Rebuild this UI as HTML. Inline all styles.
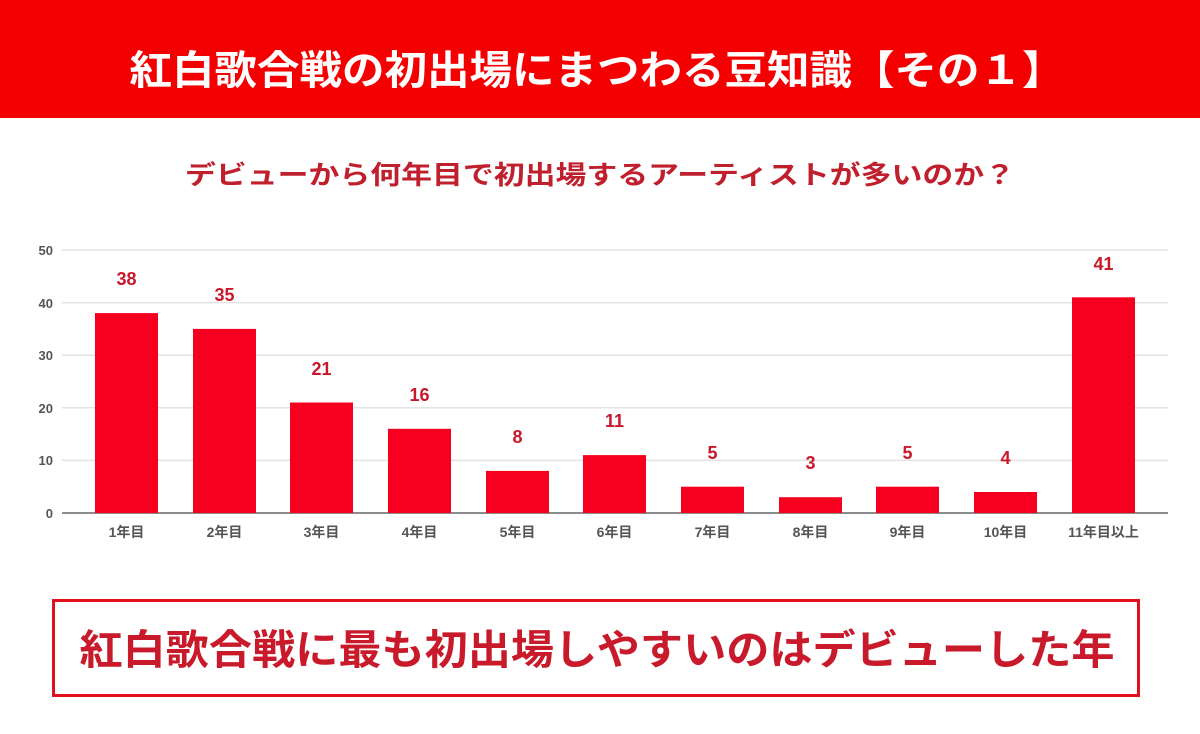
<!DOCTYPE html>
<html><head><meta charset="utf-8"><style>
html,body{margin:0;padding:0;background:#fff;}
svg{display:block;}
text{font-family:"Liberation Sans","Noto Sans CJK JP",sans-serif;}
</style></head><body>
<svg width="1200" height="734" viewBox="0 0 1200 734" xmlns="http://www.w3.org/2000/svg">
<rect x="0" y="0" width="1200" height="118" fill="#f50000"/>
<text x="597" y="84" font-size="40" font-weight="bold" fill="#fff" text-anchor="middle" textLength="935" lengthAdjust="spacingAndGlyphs">紅白歌合戦の初出場にまつわる豆知識【その１】</text>
<text x="600" y="184" font-size="26" font-weight="bold" fill="#c0202e" text-anchor="middle" textLength="830" lengthAdjust="spacingAndGlyphs">デビューから何年目で初出場するアーティストが多いのか？</text>
<g stroke="#e3e3e3" stroke-width="1.5">
<line x1="62" x2="1168" y1="250" y2="250"/>
<line x1="62" x2="1168" y1="302.6" y2="302.6"/>
<line x1="62" x2="1168" y1="355.2" y2="355.2"/>
<line x1="62" x2="1168" y1="407.8" y2="407.8"/>
<line x1="62" x2="1168" y1="460.4" y2="460.4"/>
</g>
<g font-size="13" font-weight="bold" fill="#555" text-anchor="end">
<text x="53" y="255">50</text><text x="53" y="308">40</text><text x="53" y="360">30</text>
<text x="53" y="413">20</text><text x="53" y="465">10</text><text x="53" y="518">0</text>
</g>
<g id="bars" fill="#f5001e"></g>
<line x1="62" x2="1168" y1="513" y2="513" stroke="#666" stroke-width="1.5"/>
<g id="lbl"></g>
<rect x="53.5" y="600.5" width="1085" height="95" fill="none" stroke="#e0101e" stroke-width="3"/>
<text x="597" y="664" font-size="41" font-weight="bold" fill="#c81a2a" text-anchor="middle" textLength="1035" lengthAdjust="spacingAndGlyphs">紅白歌合戦に最も初出場しやすいのはデビューした年</text>
<g fill="#f5001e">
<rect x="95" y="313.1" width="63" height="199.9"/>
<rect x="193" y="328.9" width="63" height="184.1"/>
<rect x="290" y="402.5" width="63" height="110.5"/>
<rect x="388" y="428.8" width="63" height="84.2"/>
<rect x="486" y="470.9" width="63" height="42.1"/>
<rect x="583" y="455.1" width="63" height="57.9"/>
<rect x="681" y="486.7" width="63" height="26.3"/>
<rect x="779" y="497.2" width="63" height="15.8"/>
<rect x="876" y="486.7" width="63" height="26.3"/>
<rect x="974" y="492" width="63" height="21"/>
<rect x="1072" y="297.3" width="63" height="215.7"/>
</g>
<g font-size="18" font-weight="bold" fill="#c8182b" text-anchor="middle">
<text x="126.5" y="285">38</text><text x="224.5" y="301">35</text><text x="321.5" y="375">21</text>
<text x="419.5" y="401">16</text><text x="517.5" y="443">8</text><text x="614.5" y="427">11</text>
<text x="712.5" y="459">5</text><text x="810.5" y="469">3</text><text x="907.5" y="459">5</text>
<text x="1005.5" y="464">4</text><text x="1103.5" y="270">41</text>
</g>
<g font-size="14" font-weight="bold" fill="#555" text-anchor="middle">
<text x="126.5" y="537">1年目</text><text x="224.5" y="537">2年目</text><text x="321.5" y="537">3年目</text>
<text x="419.5" y="537">4年目</text><text x="517.5" y="537">5年目</text><text x="614.5" y="537">6年目</text>
<text x="712.5" y="537">7年目</text><text x="810.5" y="537">8年目</text><text x="907.5" y="537">9年目</text>
<text x="1005.5" y="537">10年目</text><text x="1103.5" y="537">11年目以上</text>
</g>
</svg>
</body></html>
